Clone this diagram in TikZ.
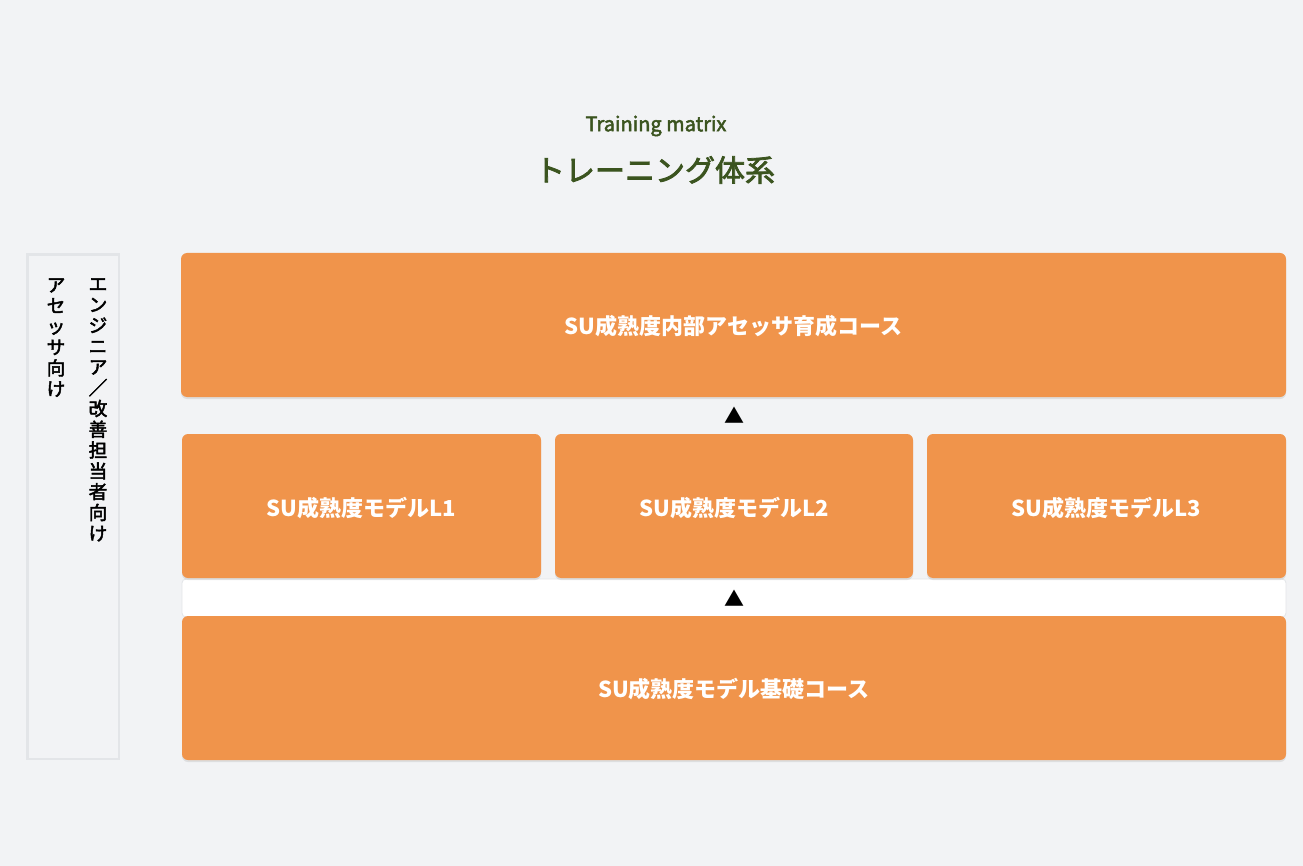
\documentclass[tikz,border=0pt]{standalone}
\usepackage{fontspec}
\setmainfont{Noto Sans CJK JP}
\newfontfamily\midfont{Noto Sans CJK JP}[AutoFakeBold=2.5]
\usetikzlibrary{shadows}
\definecolor{bgcol}{HTML}{F2F3F5}
\definecolor{edgecol}{HTML}{E3E5E8}
\definecolor{coursecol}{HTML}{F0944B}
\definecolor{headcol}{HTML}{3B541F}
\tikzset{
  course/.style={fill=coursecol, rounded corners=4.5pt, draw=none,
    drop shadow={opacity=0.18, shadow xshift=0pt, shadow yshift=-1.5pt}},
  label/.style={text=white, font=\bfseries\fontsize{16.5}{19}\selectfont},
  tate/.style={anchor=north, align=center, inner sep=0pt,
    font=\midfont\bfseries\fontsize{14}{15.6}\selectfont},
  up/.style={inner sep=0pt, font=\fontsize{15}{18}\selectfont}
}
\begin{document}
\begin{tikzpicture}[x=0.75pt, y=-0.75pt]
\useasboundingbox (0,0) rectangle (1303,866);
\fill [bgcol] (0,0) rectangle (1303,866);
\node [text=headcol, font=\midfont\bfseries\fontsize{15}{18}\selectfont] (sub) at (656,126) {Training matrix};
\node [text=headcol, font=\midfont\bfseries\fontsize{22.5}{28}\selectfont] (title) at (655,170) {トレーニング体系};
\draw [edgecol, line width=2.2pt] (27.5,254.5) rectangle (119,759);
\node [tate] (eng) at (98,278) {エ\\ン\\ジ\\ニ\\ア\\／\\改\\善\\担\\当\\者\\向\\け};
\node [tate] (asr) at (56,278) {ア\\セ\\ッ\\サ\\向\\け};
\filldraw [fill=white, draw=edgecol, line width=0.6pt, rounded corners=3pt] (182,579) rectangle (1286,617);
\fill [course] (181,253) rectangle (1286,397);
\node [label] (inner) at (733.5,326) {SU成熟度内部アセッサ育成コース};
\fill [course] (182,434) rectangle (541,578);
\node [label] (l1) at (361.5,508) {SU成熟度モデルL1};
\fill [course] (555,434) rectangle (913,578);
\node [label] (l2) at (734,508) {SU成熟度モデルL2};
\fill [course] (927,434) rectangle (1286,578);
\node [label] (l3) at (1106.5,508) {SU成熟度モデルL3};
\fill [course] (182,616) rectangle (1286,760);
\node [label] (base) at (734,689) {SU成熟度モデル基礎コース};
\node [up] (up1) at (734,415) {▲};
\node [up] (up2) at (734,598) {▲};
\end{tikzpicture}
\end{document}
